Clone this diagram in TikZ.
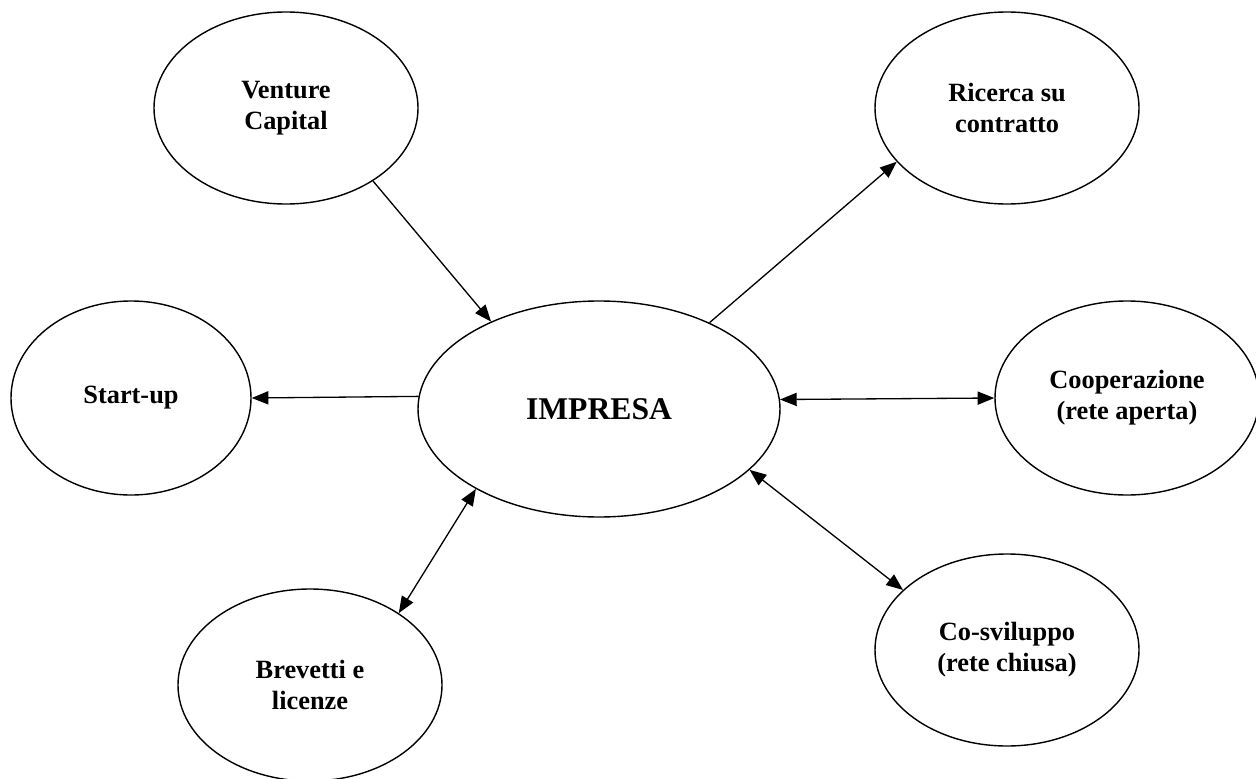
\documentclass[tikz,border=0pt]{standalone}
\usepackage{fontspec}
\setmainfont{Liberation Serif}
\usepackage{tikz}
\usetikzlibrary{shapes.geometric, arrows, arrows.meta}
\tikzstyle{bubble} = [ellipse, draw=black, line width=0.8pt, inner sep=0pt, minimum width=5.28cm, minimum height=3.84cm, align=center, font=\fontsize{15}{17.5}\selectfont\bfseries]
\tikzstyle{arrow} = [line width=0.75pt, -{Triangle[length=9.5pt,width=7.5pt]}]
\tikzstyle{darrow} = [line width=0.75pt, {Triangle[length=9.5pt,width=7.5pt]}-{Triangle[length=9.5pt,width=7.5pt]}]

\begin{document}
\begin{tikzpicture}
	\useasboundingbox (0,0) rectangle (25.12,-15.56);

	% centre
	\node[bubble, minimum width=7.24cm, minimum height=4.32cm, font=\fontsize{18}{21}\selectfont\bfseries] (impresa) at (11.98,-8.18) {IMPRESA};

	% around
	\node[bubble] (vc) at (5.72,-2.16) {Venture\\Capital};
	\node[bubble] (ricerca) at (20.14,-2.16) {Ricerca su\\contratto};
	\node[bubble, minimum width=4.8cm, minimum height=3.88cm] (startup) at (2.62,-7.96) {Start-up};
	\node[bubble, minimum height=3.88cm] (coop) at (22.54,-7.96) {Cooperazione\\(rete aperta)};
	\node[bubble] (brevetti) at (6.2,-13.7) {Brevetti e\\licenze};
	\node[bubble] (cosvil) at (20.14,-13.0) {Co-sviluppo\\(rete chiusa)};

	% Links
	\draw[arrow] (vc.-40.7) -- (impresa.141.7);
	\draw[arrow] (impresa.38.3) -- (ricerca.-154.7);
	\draw[arrow] (impresa.176.2) -- (startup.east);
	\draw[darrow] (impresa.3.8) -- (coop.west);
	\draw[darrow] (impresa.-147.4) -- (brevetti.39.8);
	\draw[darrow] (impresa.-22) -- (cosvil.150.2);
\end{tikzpicture}
\end{document}
